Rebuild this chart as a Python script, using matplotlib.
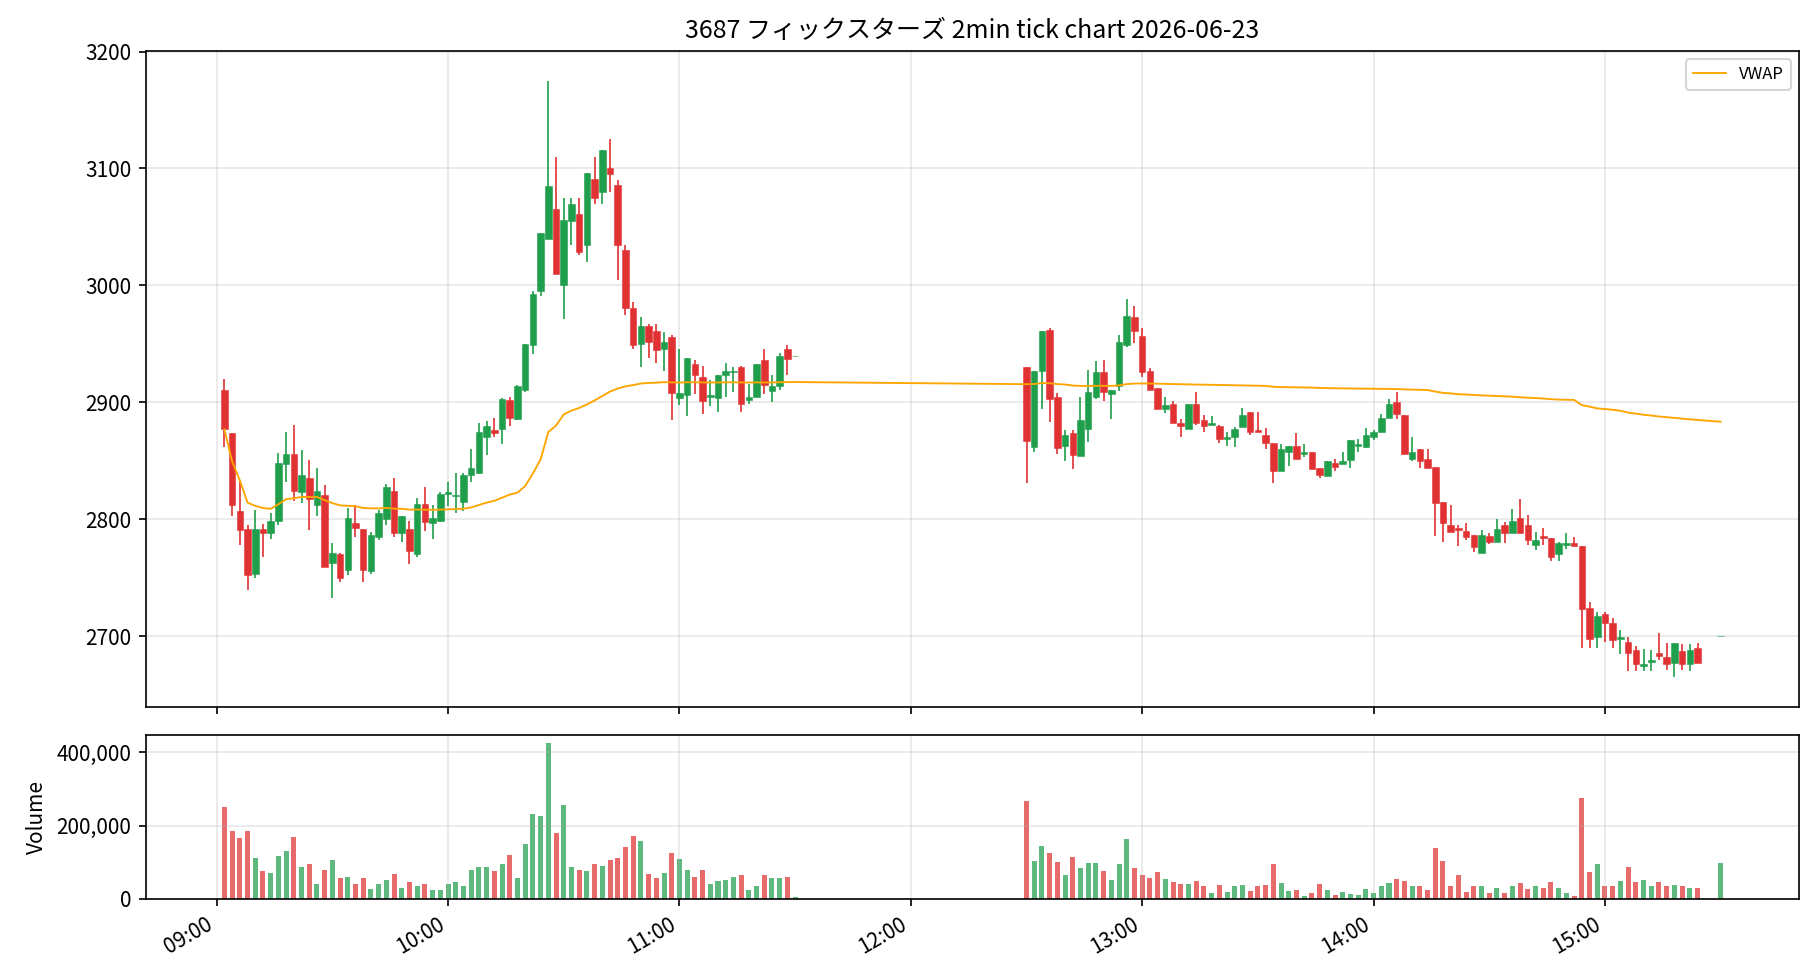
import matplotlib
matplotlib.use('Agg')
import matplotlib.pyplot as plt
import matplotlib.dates as mdates
from matplotlib.ticker import FuncFormatter, MultipleLocator
import numpy as np
import pandas as pd

plt.rcParams['font.family'] = ['Noto Sans CJK JP', 'DejaVu Sans']

title = "3687 フィックスターズ 2min tick chart 2026-06-23"

am_times = pd.date_range('2026-06-23 09:02', '2026-06-23 11:30', freq='2min')
pm_times = pd.date_range('2026-06-23 12:30', '2026-06-23 15:24', freq='2min')
close_auction = pd.DatetimeIndex(['2026-06-23 15:30'])

am_open = [2911, 2874, 2807, 2792, 2753, 2792, 2788, 2799, 2847, 2856,
           2823, 2835, 2812, 2821, 2763, 2770, 2757, 2797, 2792, 2756,
           2785, 2800, 2824, 2788, 2792, 2770, 2813, 2797, 2799, 2822,
           2820, 2815, 2838, 2840, 2870, 2876, 2877, 2902, 2886, 2911,
           2949, 2995, 3040, 3065, 3000, 3055, 3061, 3035, 3091, 3080,
           3100, 3086, 3030, 2981, 2950, 2965, 2961, 2946, 2956, 2904,
           2906, 2933, 2922, 2905, 2904, 2923, 2926, 2930, 2902, 2905,
           2936, 2910, 2914, 2946, 2940]
am_high = [2920, 2874, 2832, 2795, 2808, 2796, 2805, 2857, 2875, 2881,
           2859, 2851, 2844, 2829, 2780, 2771, 2810, 2812, 2792, 2789,
           2808, 2830, 2835, 2803, 2799, 2818, 2828, 2812, 2823, 2832,
           2840, 2840, 2860, 2882, 2884, 2887, 2904, 2905, 2915, 2950,
           2995, 3045, 3175, 3110, 3075, 3075, 3075, 3096, 3110, 3116,
           3125, 3090, 3035, 2986, 2973, 2967, 2967, 2960, 2958, 2946,
           2938, 2936, 2931, 2919, 2923, 2934, 2930, 2931, 2916, 2933,
           2946, 2923, 2942, 2949, 2940]
am_low = [2862, 2803, 2778, 2740, 2750, 2768, 2783, 2795, 2832, 2816,
          2814, 2791, 2803, 2759, 2733, 2746, 2752, 2785, 2746, 2753,
          2782, 2795, 2785, 2781, 2762, 2768, 2790, 2783, 2798, 2811,
          2805, 2807, 2832, 2840, 2855, 2870, 2864, 2880, 2885, 2909,
          2941, 2991, 3040, 3010, 2971, 3035, 3026, 3020, 3070, 3070,
          3080, 3005, 2975, 2946, 2930, 2938, 2934, 2927, 2885, 2898,
          2888, 2907, 2890, 2897, 2892, 2905, 2909, 2892, 2899, 2905,
          2907, 2900, 2911, 2923, 2940]
am_close = [2877, 2812, 2791, 2752, 2792, 2788, 2799, 2848, 2856, 2824,
            2838, 2817, 2824, 2759, 2771, 2750, 2801, 2793, 2757, 2787,
            2805, 2828, 2788, 2803, 2773, 2813, 2798, 2801, 2822, 2823,
            2821, 2838, 2844, 2875, 2880, 2874, 2903, 2887, 2914, 2950,
            2993, 3045, 3085, 3010, 3056, 3070, 3029, 3096, 3075, 3116,
            3095, 3035, 2981, 2949, 2965, 2952, 2945, 2952, 2908, 2908,
            2938, 2923, 2901, 2906, 2923, 2927, 2927, 2899, 2905, 2933,
            2915, 2914, 2940, 2937, 2940]
am_volume = [252, 184, 167, 184, 113, 75, 72, 116, 132, 170,
             88, 94, 42, 80, 107, 58, 61, 42, 58, 28,
             42, 53, 69, 31, 47, 36, 42, 25, 25, 42,
             45, 36, 80, 88, 88, 75, 94, 121, 58, 151,
             233, 225, 426, 181, 255, 86, 80, 75, 96, 91,
             105, 113, 143, 173, 159, 69, 58, 72, 124, 110,
             80, 61, 80, 42, 50, 53, 61, 66, 25, 36,
             64, 58, 58, 61, 4]

pm_open = [2930, 2862, 2927, 2962, 2905, 2863, 2874, 2854, 2877, 2905,
           2926, 2907, 2914, 2949, 2973, 2957, 2927, 2912, 2894, 2899,
           2882, 2877, 2899, 2885, 2881, 2880, 2869, 2870, 2879, 2892,
           2876, 2872, 2865, 2841, 2858, 2863, 2856, 2858, 2844, 2837,
           2848, 2847, 2851, 2863, 2862, 2870, 2875, 2887, 2900, 2889,
           2852, 2860, 2852, 2845, 2815, 2795, 2793, 2790, 2787, 2771,
           2786, 2781, 2795, 2788, 2801, 2795, 2778, 2786, 2784, 2770,
           2778, 2780, 2777, 2724, 2699, 2719, 2711, 2698, 2695, 2688,
           2675, 2678, 2686, 2682, 2677, 2687, 2676, 2690, 2700]
pm_high = [2930, 2927, 2961, 2964, 2908, 2876, 2876, 2905, 2928, 2935,
           2936, 2911, 2958, 2988, 2982, 2964, 2929, 2912, 2905, 2901,
           2886, 2899, 2909, 2889, 2888, 2881, 2875, 2879, 2895, 2892,
           2892, 2878, 2865, 2864, 2863, 2874, 2864, 2858, 2844, 2850,
           2852, 2858, 2868, 2869, 2878, 2876, 2890, 2903, 2909, 2889,
           2870, 2860, 2860, 2845, 2815, 2812, 2795, 2797, 2787, 2791,
           2788, 2800, 2798, 2809, 2817, 2804, 2789, 2793, 2784, 2781,
           2788, 2785, 2777, 2729, 2721, 2721, 2716, 2705, 2699, 2692,
           2689, 2688, 2703, 2694, 2694, 2693, 2693, 2694, 2700]
pm_low = [2831, 2858, 2894, 2883, 2856, 2850, 2843, 2854, 2866, 2903,
          2901, 2886, 2910, 2947, 2951, 2922, 2911, 2894, 2891, 2882,
          2870, 2877, 2881, 2875, 2881, 2865, 2863, 2862, 2879, 2872,
          2875, 2860, 2831, 2841, 2846, 2852, 2853, 2843, 2835, 2837,
          2841, 2847, 2844, 2858, 2861, 2868, 2875, 2887, 2886, 2856,
          2850, 2844, 2844, 2786, 2781, 2789, 2777, 2782, 2772, 2771,
          2779, 2781, 2780, 2788, 2788, 2778, 2774, 2778, 2764, 2764,
          2775, 2777, 2690, 2690, 2690, 2695, 2690, 2685, 2670, 2670,
          2670, 2670, 2680, 2671, 2665, 2671, 2670, 2677, 2700]
pm_close = [2867, 2927, 2961, 2903, 2861, 2872, 2855, 2885, 2909, 2926,
            2909, 2911, 2952, 2974, 2961, 2926, 2911, 2894, 2898, 2882,
            2880, 2899, 2882, 2880, 2882, 2869, 2870, 2877, 2889, 2875,
            2875, 2865, 2841, 2860, 2863, 2852, 2858, 2843, 2838, 2850,
            2845, 2850, 2868, 2864, 2872, 2875, 2887, 2899, 2890, 2856,
            2858, 2850, 2844, 2814, 2797, 2789, 2791, 2785, 2776, 2787,
            2781, 2792, 2788, 2799, 2788, 2782, 2782, 2784, 2768, 2780,
            2780, 2777, 2723, 2698, 2717, 2711, 2697, 2699, 2686, 2676,
            2676, 2680, 2683, 2676, 2694, 2676, 2688, 2677, 2700]
pm_volume = [266, 104, 145, 124, 102, 66, 115, 85, 99, 99,
             77, 53, 94, 164, 85, 64, 58, 74, 55, 47,
             42, 42, 50, 36, 17, 39, 20, 34, 39, 23,
             36, 39, 94, 44, 23, 25, 9, 17, 42, 25,
             12, 20, 14, 12, 28, 17, 34, 44, 55, 50,
             34, 34, 25, 140, 104, 36, 64, 20, 34, 34,
             17, 31, 17, 36, 44, 28, 34, 31, 47, 31,
             17, 9, 274, 74, 94, 36, 34, 50, 88, 47,
             53, 36, 47, 34, 39, 36, 31, 31, 99]

times = am_times.append(pm_times).append(close_auction)
o = np.array(am_open + pm_open, dtype=float)
h = np.array(am_high + pm_high, dtype=float)
l = np.array(am_low + pm_low, dtype=float)
c = np.array(am_close + pm_close, dtype=float)
v = np.array(am_volume + pm_volume, dtype=float) * 1000

vwap = np.cumsum(c * v) / np.cumsum(v)

x = mdates.date2num(times.to_pydatetime())
minute = 1.0 / 1440.0
up = c >= o
GREEN = '#1f9e4b'
RED = '#e03232'
cols = np.where(up, GREEN, RED)

fig = plt.figure(figsize=(1820 / 150, 980 / 150), dpi=150)
gs = fig.add_gridspec(2, 1, height_ratios=[4, 1], left=0.0802, right=0.9885,
                      top=0.948, bottom=0.0827, hspace=0.068)
ax = fig.add_subplot(gs[0])
axv = fig.add_subplot(gs[1], sharex=ax)

ax.vlines(x, l, h, colors=cols, linewidth=0.8, zorder=2)
body_bottom = np.minimum(o, c)
body_h = np.abs(c - o)
for xi, bb, bh, col in zip(x, body_bottom, body_h, cols):
    ax.bar(xi, bh, bottom=bb, width=1.7 * minute, color=col,
           edgecolor=matplotlib.colors.to_rgba(col, 0.55), linewidth=0.5, zorder=3)
ax.plot(x, vwap, color='orange', linewidth=0.9, label='VWAP', zorder=4)
ax.legend(loc='upper right', fontsize=8)
ax.set_title(title, fontsize=12)
ax.grid(True, alpha=0.3)
ax.tick_params(labelbottom=False)

axv.bar(x, v, width=1.3 * minute, color=cols, alpha=0.72)
axv.set_ylabel('Volume')
axv.grid(True, alpha=0.3)
axv.yaxis.set_major_locator(MultipleLocator(200000))
axv.yaxis.set_major_formatter(FuncFormatter(lambda val, pos: f'{val:,.0f}'))
axv.xaxis.set_major_locator(mdates.HourLocator())
axv.xaxis.set_major_formatter(mdates.DateFormatter('%H:%M'))
for lab in axv.get_xticklabels():
    lab.set_rotation(30)
    lab.set_ha('right')

fig.savefig('out.png', dpi=150)
